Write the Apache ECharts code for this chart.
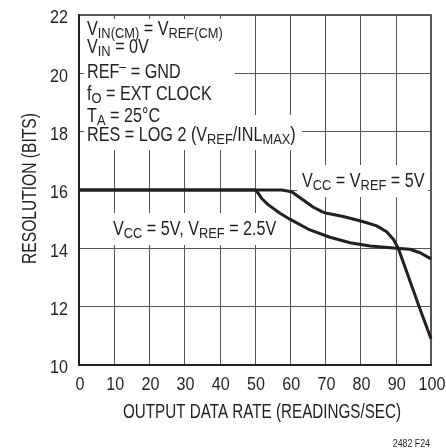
<!DOCTYPE html>
<html><head><meta charset="utf-8">
<script src="https://cdn.jsdelivr.net/npm/echarts/dist/echarts.min.js"></script>
<style>html,body{margin:0;padding:0;background:#fff}#c{width:446px;height:448px}</style>
</head><body><div id="c"></div>
<script>
// ---- data ----
const xTickValues = [0, 10, 20, 30, 40, 50, 60, 70, 80, 90, 100];
const yTickValues = [10, 12, 14, 16, 18, 20, 22];
// VCC = VREF = 5V
const rate5V = [0, 57.6, 60.4, 63.7, 66.6, 69.0, 70.4, 75.1, 80.8, 84.6, 87.4, 89.3, 90.7, 96.9, 100];
const res5V  = [16, 16, 15.94, 15.66, 15.41, 15.26, 15.20, 15.09, 14.91, 14.77, 14.57, 14.31, 14.0, 11.91, 10.9];
// VCC = 5V, VREF = 2.5V
const rate25V = [0, 50.0, 50.9, 51.9, 53.8, 57.1, 59.9, 65.6, 71.3, 77.0, 82.7, 90.3, 94.0, 96.9, 100];
const res25V  = [16, 16, 15.89, 15.71, 15.49, 15.2, 15.0, 14.63, 14.38, 14.19, 14.08, 14.0, 13.97, 13.85, 13.64];
const xTitle = 'OUTPUT DATA RATE (READINGS/SEC)';
const yTitle = 'RESOLUTION (BITS)';

const FONT = "'Liberation Sans', Arial, sans-serif";
const INK = '#231f20';
const SX = 0.85;

const chart = echarts.init(document.getElementById('c'), null, {renderer: 'canvas'});
const richDef = {
  n: {fontSize: 19.5, fontFamily: FONT, fill: INK},
  s: {fontSize: 15.5, fontFamily: FONT, fill: INK, padding: [8, 0, 0, 0]},
  p: {fontSize: 15, fontFamily: FONT, fill: INK, padding: [0, 0, 12, 0]}
};
function txt(x, y, t) {
  return {type: 'text', x: x, y: y, z: 5, scaleX: 0.83,
    style: {text: t, rich: richDef, verticalAlign: 'middle', align: 'left', fill: INK, fontFamily: FONT, fontSize: 19.5}};
}
function plain(x, y, t, size, align, sx, rot) {
  return {type: 'text', x: x, y: y, z: 5, scaleX: sx, rotation: rot || 0,
    style: {text: t, fontSize: size, fontFamily: FONT, fill: INK, align: align, verticalAlign: 'middle'}};
}
function box(x, y, w, h) {
  return {type: 'rect', z: 1, shape: {x: x, y: y, width: w, height: h}, style: {fill: '#fff'}};
}

const option = {
  animation: false,
  backgroundColor: '#fff',
  grid: {left: 79, right: 15, top: 15, bottom: 83, containLabel: false, outerBoundsMode: 'none',
         show: true, borderColor: INK, borderWidth: 1.5, backgroundColor: 'transparent'},
  xAxis: {
    type: 'value', min: xTickValues[0], max: xTickValues[xTickValues.length - 1], interval: 10,
    axisLine: {lineStyle: {color: INK, width: 2}},
    axisTick: {show: false},
    axisLabel: {show: false},
    splitLine: {show: true, lineStyle: {color: '#555', width: 1}}
  },
  yAxis: {
    type: 'value', min: yTickValues[0], max: yTickValues[yTickValues.length - 1], interval: 2,
    axisLine: {show: true, lineStyle: {color: INK, width: 2}},
    axisTick: {show: false},
    axisLabel: {show: false},
    splitLine: {show: true, lineStyle: {color: '#555', width: 1}}
  },
  series: [
    {type: 'line', name: 'VCC = VREF = 5V', data: rate5V.map((x, i) => [x, res5V[i]]),
     showSymbol: false, smooth: false, z: 2, lineStyle: {color: INK, width: 3}},
    {type: 'line', name: 'VCC = 5V, VREF = 2.5V', data: rate25V.map((x, i) => [x, res25V[i]]),
     showSymbol: false, smooth: false, z: 2, lineStyle: {color: INK, width: 3}}
  ]
};
chart.setOption(option);

const g = [
  box(84, 19, 151, 131),
  box(84, 115, 218, 35),
  box(297, 165, 131, 32),
  box(108, 213, 174, 32),
  txt(87, 30, '{n|V}{s|IN(CM)}{n| = V}{s|REF(CM)}'),
  txt(87, 48, '{n|V}{s|IN}{n| = 0V}'),
  txt(87, 73, '{n|REF}{p|–}{n| = GND}'),
  txt(87, 95, '{n|f}{s|O}{n| = EXT CLOCK}'),
  txt(87, 117, '{n|T}{s|A}{n| = 25°C}'),
  txt(87, 136, '{n|RES = LOG 2 (V}{s|REF}{n|/INL}{s|MAX}{n|)}'),
  txt(302, 182, '{n|V}{s|CC}{n| = V}{s|REF}{n| = 5V}'),
  txt(113, 230, '{n|V}{s|CC}{n| = 5V, V}{s|REF}{n| = 2.5V}'),
  plain(262, 412.5, xTitle, 19.5, 'center', 0.78),
  plain(31, 188.5, yTitle, 19.5, 'center', 0.8, Math.PI / 2),
  plain(430, 443.5, '2482 F24', 11, 'right', 0.8)
];
xTickValues.forEach(function (v) {
  const p = chart.convertToPixel({gridIndex: 0}, [v, yTickValues[0]]);
  g.push(plain(p[0] + 1, p[1] + 20, String(v), 19, 'center', SX));
});
yTickValues.forEach(function (v) {
  const p = chart.convertToPixel({gridIndex: 0}, [xTickValues[0], v]);
  g.push(plain(p[0] - 11, p[1] + 3, String(v), 19, 'right', SX));
});
chart.setOption({graphic: g});
</script></body></html>
